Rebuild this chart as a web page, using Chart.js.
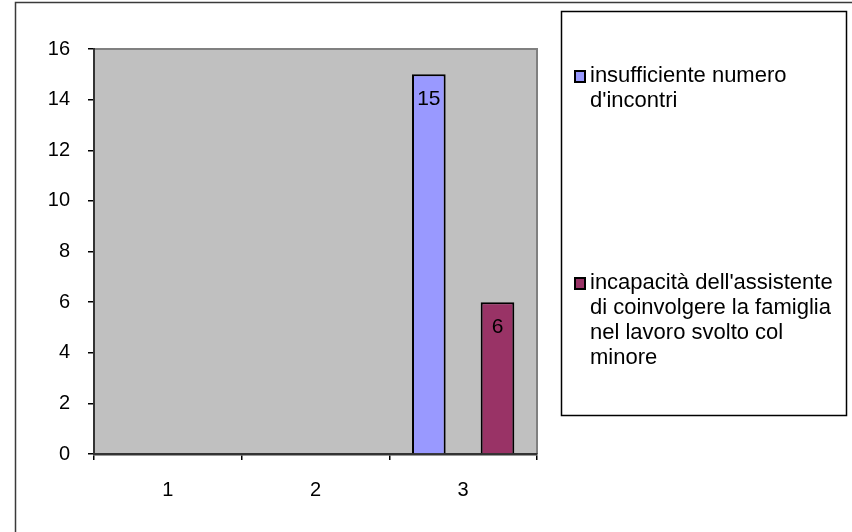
<!DOCTYPE html>
<html>
<head>
<meta charset="utf-8">
<script src="https://cdn.jsdelivr.net/npm/chart.js@4"></script>
<style>
  html, body { margin: 0; padding: 0; background: #ffffff; }
  #wrap { position: relative; width: 852px; height: 532px; }
</style>
</head>
<body>
<div id="wrap"><canvas id="c" width="852" height="532"></canvas></div>
<script>
// Category labels on the x axis
const categories = ['1', '2', '3'];

// Series values (only the third group has answers)
const seriesLabels = [
  "insufficiente numero d'incontri",
  "incapacità dell'assistente di coinvolgere la famiglia nel lavoro svolto col minore"
];
const seriesInsufficiente = [null, null, 15];
const seriesIncapacita = [null, null, 6];

// Legend text, broken into lines as laid out in the key box
const legendLines = [
  ["insufficiente numero", "d'incontri"],
  ["incapacità dell'assistente", "di coinvolgere la famiglia", "nel lavoro svolto col", "minore"]
];

// Y axis range
const yMin = 0, yMax = 16, yStep = 2;

const FONT = '"Liberation Sans", Arial, sans-serif';
const TICK_SIZE = 20;
const KEY_SIZE = 22;
const VALUE_SIZE = 21;

// Grey plot background with a grey frame on top/right, outer chart frame
const backdrop = {
  id: 'backdrop',
  beforeDraw(chart) {
    const { ctx, chartArea: a } = chart;
    ctx.save();
    ctx.fillStyle = '#c0c0c0';
    ctx.fillRect(a.left, a.top, a.right - a.left, a.bottom - a.top);
    ctx.strokeStyle = '#808080';
    ctx.lineWidth = 2;
    ctx.beginPath();
    ctx.moveTo(a.left, a.top);
    ctx.lineTo(a.right, a.top);
    ctx.lineTo(a.right, a.bottom);
    ctx.stroke();
    // outer chart frame
    ctx.strokeStyle = '#3a3a3a';
    ctx.lineWidth = 1.5;
    ctx.beginPath();
    ctx.moveTo(15.5, chart.height + 5);
    ctx.lineTo(15.5, 2.5);
    ctx.lineTo(chart.width + 5, 2.5);
    ctx.stroke();
    ctx.restore();
  }
};

// Value written inside the top of each bar
const barValues = {
  id: 'barValues',
  afterDatasetsDraw(chart) {
    const { ctx } = chart;
    ctx.save();
    ctx.font = VALUE_SIZE + 'px ' + FONT;
    ctx.fillStyle = '#000';
    ctx.textAlign = 'center';
    ctx.textBaseline = 'middle';
    chart.data.datasets.forEach((ds, i) => {
      const meta = chart.getDatasetMeta(i);
      meta.data.forEach((bar, j) => {
        const v = ds.data[j];
        if (v === null || v === undefined) return;
        ctx.fillText(String(v), bar.x, bar.y + 25);
      });
    });
    ctx.restore();
  }
};

// Key box on the right
const keyBox = {
  id: 'keyBox',
  afterDraw(chart) {
    const { ctx } = chart;
    const box = { left: 561, top: 11, right: 846, bottom: 415 };
    ctx.save();
    ctx.fillStyle = '#ffffff';
    ctx.fillRect(box.left, box.top, box.right - box.left, box.bottom - box.top);
    ctx.strokeStyle = '#000';
    ctx.lineWidth = 1.5;
    ctx.strokeRect(box.left + 0.5, box.top + 0.5, box.right - box.left, box.bottom - box.top);

    const entryTops = [76, 283];
    const lineH = 25;
    ctx.font = KEY_SIZE + 'px ' + FONT;
    ctx.textBaseline = 'middle';
    ctx.textAlign = 'left';
    chart.data.datasets.forEach((ds, i) => {
      const y0 = entryTops[i];
      // swatch
      ctx.fillStyle = ds.backgroundColor;
      ctx.fillRect(575, y0 - 5, 10, 11);
      ctx.strokeStyle = '#000';
      ctx.lineWidth = 2;
      ctx.strokeRect(575, y0 - 5, 10, 11);
      ctx.fillStyle = '#000';
      legendLines[i].forEach((line, k) => {
        ctx.fillText(line, 590, y0 + k * lineH);
      });
    });
    ctx.restore();
  }
};

new Chart(document.getElementById('c'), {
  type: 'bar',
  data: {
    labels: categories,
    datasets: [
      {
        label: seriesLabels[0],
        data: seriesInsufficiente,
        backgroundColor: '#9999ff',
        borderColor: '#000000',
        borderWidth: 2,
        borderSkipped: 'bottom'
      },
      {
        label: seriesLabels[1],
        data: seriesIncapacita,
        backgroundColor: '#993366',
        borderColor: '#000000',
        borderWidth: 2,
        borderSkipped: 'bottom'
      }
    ]
  },
  options: {
    responsive: false,
    animation: false,
    devicePixelRatio: 1,
    layout: { padding: { left: 0, right: 315, top: 49, bottom: 0 } },
    datasets: {
      bar: { categoryPercentage: 0.93, barPercentage: 0.49 }
    },
    plugins: {
      legend: { display: false },
      tooltip: { enabled: false },
      title: { display: false }
    },
    scales: {
      x: {
        offset: true,
        afterFit(scale) { scale.height = 78; },
        grid: {
          offset: true,
          drawOnChartArea: false,
          drawTicks: true,
          tickLength: 6,
          color: '#000',
          lineWidth: 1.5
        },
        border: { display: true, color: '#333', width: 2.5 },
        ticks: {
          color: '#000',
          font: { family: FONT, size: TICK_SIZE },
          padding: 18
        }
      },
      y: {
        min: yMin,
        max: yMax,
        afterFit(scale) { scale.width = 94; },
        grid: {
          drawOnChartArea: false,
          drawTicks: true,
          tickLength: 6,
          color: '#000',
          lineWidth: 1.5
        },
        border: { display: true, color: '#333', width: 2 },
        ticks: {
          stepSize: yStep,
          color: '#000',
          font: { family: FONT, size: TICK_SIZE },
          padding: 18
        }
      }
    }
  },
  plugins: [backdrop, barValues, keyBox]
});
</script>
</body>
</html>
